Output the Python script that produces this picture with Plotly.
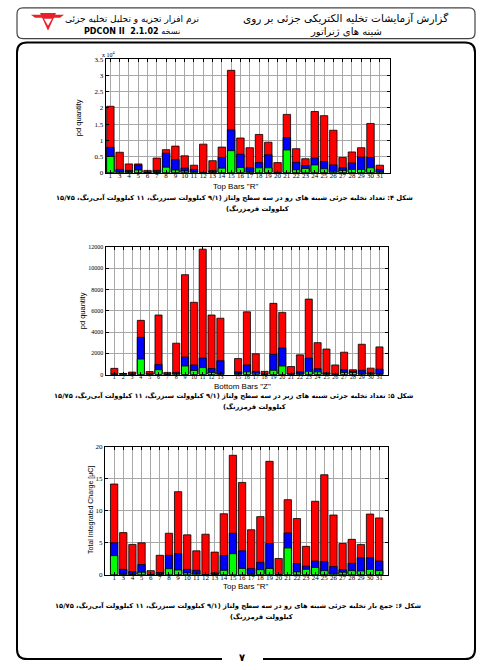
import plotly.graph_objects as go

W, H = 481, 670

# ---------------- data ----------------
top_labels = ["1", "3", "4", "5", "6", "7", "8", "9", "10", "11", "12", "13", "14", "15", "16",
              "17", "18", "19", "20", "21", "22", "23", "24", "25", "26", "27", "28", "29", "30", "31"]
# Fig 4: pd quantity (x 10^4), top bars R
top_red = [2.05, 0.63, 0.27, 0.27, 0.07, 0.45, 0.71, 0.82, 0.52, 0.23, 0.88, 0.37, 0.79, 3.16, 1.07,
           0.77, 1.18, 0.94, 0.31, 1.80, 0.74, 0.43, 1.89, 1.76, 1.31, 0.47, 0.64, 0.77, 1.52, 0.23]
top_blue = [0.78, 0.10, 0.07, 0.24, 0.02, 0.07, 0.60, 0.40, 0.14, 0.10, 0.01, 0.06, 0.47, 1.32, 0.57,
            0.15, 0.31, 0.55, 0.01, 1.08, 0.32, 0.22, 0.45, 0.34, 0.24, 0.15, 0.30, 0.48, 0.47, 0.10]
top_green = [0.50, 0.03, 0.02, 0.08, 0.00, 0.01, 0.17, 0.08, 0.05, 0.03, 0.00, 0.01, 0.14, 0.68, 0.16,
             0.03, 0.15, 0.15, 0.00, 0.70, 0.09, 0.13, 0.24, 0.12, 0.04, 0.07, 0.10, 0.10, 0.15, 0.03]

# Fig 5: pd quantity, bottom bars Z (bar 14 absent)
bottom_labels = ["1", "2", "3", "4", "5", "6", "7", "8", "9", "10", "11", "12", "13",
                 "15", "16", "17", "18", "19", "20", "21", "22", "23", "24", "25", "26", "27", "28", "29", "30", "31"]
bottom_red = [580, 100, 230, 5100, 280, 5600, 200, 2950, 9400, 6800, 11800, 5600, 5300,
              1500, 5900, 1950, 300, 6700, 5850, 750, 1850, 7100, 3000, 2400, 900, 2100, 450, 2850, 600, 2600]
bottom_blue = [50, 80, 50, 3500, 100, 950, 50, 200, 1650, 900, 1550, 560, 1300,
               250, 900, 300, 50, 1900, 2500, 100, 250, 1550, 550, 150, 50, 450, 300, 400, 150, 500]
bottom_green = [20, 60, 20, 1450, 30, 450, 20, 80, 800, 380, 650, 200, 50,
                80, 250, 130, 20, 400, 800, 30, 100, 300, 250, 50, 20, 200, 200, 100, 100, 50]

# Fig 6: total integrated charge [uC], top bars R
charge_red = [14.2, 6.6, 4.75, 5.0, 0.65, 3.05, 6.5, 13.0, 6.25, 3.75, 6.35, 3.55, 9.55, 18.7, 14.45,
              7.05, 9.1, 17.75, 2.55, 11.75, 8.8, 4.45, 11.5, 15.65, 9.35, 4.9, 5.55, 4.75, 9.5, 8.9]
charge_blue = [5.0, 0.85, 0.5, 1.6, 0.05, 0.35, 3.05, 3.3, 0.85, 0.7, 0.05, 0.3, 3.0, 6.5, 3.75,
               1.0, 1.95, 4.9, 0.05, 6.55, 1.75, 1.35, 2.15, 2.05, 1.3, 0.8, 1.8, 2.65, 2.65, 2.15]
charge_green = [3.0, 0.1, 0.05, 0.4, 0.02, 0.05, 0.95, 0.75, 0.3, 0.2, 0.02, 0.05, 0.7, 3.3, 1.0,
                0.1, 0.8, 1.0, 0.02, 4.2, 0.45, 0.85, 1.15, 0.65, 0.2, 0.4, 0.65, 0.6, 0.85, 0.65]

colors = {"red": "#ff0000", "blue": "#0000ff", "green": "#00ff00"}

# ---------------- helpers ----------------
def X(px):
    return px / W

def Y(py):
    return 1 - py / H

def rrect(x0, y0, x1, y1, r):
    rx, ry = r / W, r / H
    a, b = X(x0), X(x1)
    t, u = Y(y0), Y(y1)
    return (f"M {a+rx},{t} L {b-rx},{t} Q {b},{t} {b},{t-ry} L {b},{u+ry} Q {b},{u} {b-rx},{u} "
            f"L {a+rx},{u} Q {a},{u} {a},{u+ry} L {a},{t-ry} Q {a},{t} {a+rx},{t} Z")

fig = go.Figure()

def add_bars(xs, red, blue, green, xa, ya):
    for vals, c in ((red, "red"), (blue, "blue"), (green, "green")):
        fig.add_trace(go.Bar(x=xs, y=vals, width=0.8,
                             marker=dict(color=colors[c], line=dict(color="black", width=0.8)),
                             xaxis=xa, yaxis=ya, hoverinfo="skip"))

top_pos = list(range(1, len(top_labels) + 1))
bottom_pos = [int(v) for v in bottom_labels]

add_bars(top_pos, top_red, top_blue, top_green, "x", "y")
add_bars(bottom_pos, bottom_red, bottom_blue, bottom_green, "x2", "y2")
add_bars(top_pos, charge_red, charge_blue, charge_green, "x3", "y3")

grid = "#a8a8a8"
def xax(dom, rng, tv, tt, anchor, fs):
    return dict(domain=dom, range=rng, tickvals=tv, ticktext=tt, anchor=anchor, tickangle=0,
                ticklabelstandoff=-4,
                showgrid=True, gridcolor=grid, gridwidth=1, zeroline=False,
                showline=True, linecolor="black", linewidth=1, mirror="ticks",
                ticks="inside", ticklen=3, tickcolor="black",
                tickfont=dict(family="Liberation Serif", size=fs, color="black"), fixedrange=True)

def yax(dom, rng, dtick, anchor, fs, fmt=None):
    d = dict(domain=dom, range=rng, dtick=dtick, tick0=0, anchor=anchor,
             showgrid=True, gridcolor=grid, gridwidth=1, zeroline=False,
             showline=True, linecolor="black", linewidth=1, mirror="ticks",
             ticks="inside", ticklen=3, tickcolor="black",
             tickfont=dict(family="Liberation Serif", size=fs, color="black"), fixedrange=True)
    if fmt:
        d["tickformat"] = fmt
    return d

fig.update_layout(
    width=W, height=H, margin=dict(l=0, r=0, t=0, b=0),
    paper_bgcolor="white", plot_bgcolor="white", showlegend=False, barmode="overlay",
    xaxis=xax([X(105.7), X(390)], [0.5, 31.1], top_pos, top_labels, "y", 7),
    yaxis=yax([Y(170.7), Y(56)], [0, 3.5], 0.5, "x", 7),
    xaxis2=xax([X(105.5), X(388.3)], [0, 32], bottom_pos, bottom_labels, "y2", 6),
    yaxis2=yax([Y(375), Y(246)], [0, 12000], 2000, "x2", 6, "d"),
    xaxis3=xax([X(105), X(388.3)], [0, 31], top_pos, top_labels, "y3", 7),
    yaxis3=yax([Y(577.7), Y(448.3)], [0, 20], 5, "x3", 7),
)

ann = []
def txt(px, py, s, size, family="Liberation Sans", angle=0, color="black"):
    ann.append(dict(x=X(px), y=Y(py), xref="paper", yref="paper", text=s, showarrow=False,
                    font=dict(family=family, size=size, color=color), textangle=angle,
                    xanchor="center", yanchor="middle"))

fa = "DejaVu Sans"
# header
txt(345, 15, "گزارش آزمایشات تخلیه الکتریکی جزئی بر روی", 10.5, fa)
txt(346, 28, "شینه های ژنراتور", 10, fa)
txt(132, 15, "نرم افزار تجزیه و تحلیل تخلیه جزئی", 9, fa)
txt(132, 28, "<b>PDCON II  2.1.02 </b>نسخه", 8, fa)

# axis titles
txt(109, 51, "x 10<sup>4</sup>", 6, "Liberation Serif")
txt(78.5, 115, "pd quantity", 7.5, angle=-90)
txt(235, 185, "Top Bars \"R\"", 8)
txt(82, 311, "pd quantity", 7.5, angle=-90)
txt(242, 387, "Bottom Bars \"Z\"", 8)
txt(91, 512, "Total Integrated Charge [μC]", 7, angle=-90)
txt(245, 590, "Top Bars \"R\"", 8)

# captions
cs = 6.7
txt(234, 196, "<b>شکل ۴: تعداد تخلیه جزئی شینه های رو در سه سطح ولتاژ (۹/۱ کیلوولت سبزرنگ، ۱۱ کیلوولت آبی‌رنگ، ۱۵/۷۵</b>", cs, fa)
txt(257, 207, "<b>(کیلوولت قرمزرنگ</b>", cs, fa)
txt(234, 396, "<b>شکل ۵: تعداد تخلیه جزئی شینه های زیر در سه سطح ولتاژ (۹/۱ کیلوولت سبزرنگ، ۱۱ کیلوولت آبی‌رنگ، ۱۵/۷۵</b>", cs, fa)
txt(254, 407, "<b>(کیلوولت قرمزرنگ</b>", cs, fa)
txt(238, 609, "<b>شکل ۶: جمع بار تخلیه جزئی شینه های رو در سه سطح ولتاژ (۹/۱ کیلوولت سبزرنگ، ۱۱ کیلوولت آبی‌رنگ، ۱۵/۷۵</b>", cs, fa)
txt(261, 619.5, "<b>(کیلوولت قرمزرنگ</b>", cs, fa)

# page number
txt(242, 661, "<b>۷</b>", 10, fa)

fig.update_layout(annotations=ann)

shapes = [
    dict(type="path", path=rrect(17, 4, 475, 35, 6), xref="paper", yref="paper",
         line=dict(color="#444444", width=1.2), layer="below"),
    dict(type="path", path=rrect(17, 39, 475, 663, 10), xref="paper", yref="paper",
         line=dict(color="black", width=2), layer="below"),
    dict(type="rect", x0=X(222), x1=X(263), y0=Y(670), y1=Y(656), xref="paper", yref="paper",
         fillcolor="white", line=dict(width=0), layer="above"),
    # logo
    dict(type="path", path=f"M {X(31)},{Y(11)} L {X(64)},{Y(11)} L {X(60)},{Y(14)} L {X(35)},{Y(14)} Z",
         xref="paper", yref="paper", fillcolor="#e8202a", line=dict(width=0), layer="above"),
    dict(type="path", path=f"M {X(40)},{Y(9)} L {X(56)},{Y(9)} L {X(48)},{Y(27)} Z",
         xref="paper", yref="paper", fillcolor="#e8202a", line=dict(width=0), layer="above"),
    dict(type="path", path=f"M {X(44)},{Y(15)} L {X(52)},{Y(15)} L {X(48)},{Y(22)} Z",
         xref="paper", yref="paper", fillcolor="white", line=dict(width=0), layer="above"),
]
fig.update_layout(shapes=shapes)

fig.write_html("out.html", config={"displayModeBar": False},
               post_script="document.body.style.margin='0';document.body.style.overflow='hidden';")
